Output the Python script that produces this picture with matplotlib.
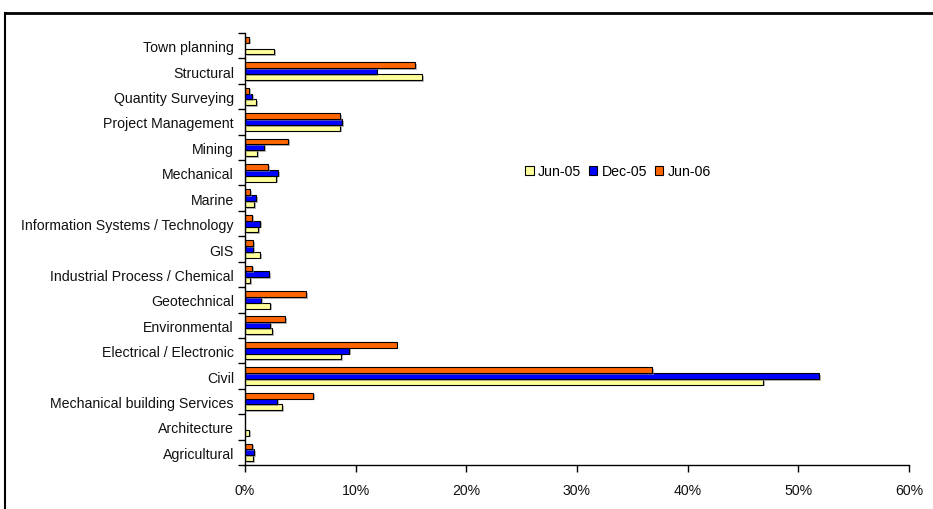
import matplotlib
matplotlib.use("Agg")
import matplotlib.pyplot as plt
import matplotlib.patheffects as pe
from matplotlib.lines import Line2D
from matplotlib.patches import Patch
import numpy as np

categories = ["Agricultural", "Architecture", "Mechanical building Services", "Civil",
              "Electrical / Electronic", "Environmental", "Geotechnical",
              "Industrial Process / Chemical", "GIS", "Information Systems / Technology",
              "Marine", "Mechanical", "Mining", "Project Management",
              "Quantity Surveying", "Structural", "Town planning"]
jun05 = [0.75, 0.4, 3.37, 46.8, 8.7, 2.47, 2.29, 0.48, 1.38, 1.2, 0.81, 2.83, 1.1, 8.58, 1.0, 16.0, 2.65]
dec05 = [0.84, 0.0, 2.92, 51.9, 9.4, 2.29, 1.47, 2.2, 0.75, 1.38, 1.0, 3.0, 1.75, 8.76, 0.66, 11.9, 0.0]
jun06 = [0.66, 0.0, 6.17, 36.8, 13.7, 3.64, 5.54, 0.66, 0.72, 0.66, 0.48, 2.08, 3.9, 8.6, 0.4, 15.4, 0.4]
series_names = ["Jun-05", "Dec-05", "Jun-06"]
colors = ["#FFFF99", "#0000FF", "#FF6600"]
xticks = [0, 10, 20, 30, 40, 50, 60]

plt.rcParams['font.family'] = ['Liberation Sans', 'DejaVu Sans']

W, H = 933, 510
fig = plt.figure(figsize=(W / 100, H / 100), dpi=100)
ax = fig.add_axes([245 / W, 1 - 466 / H, (909 - 245) / W, (466 - 34) / H])

y = np.arange(len(categories))
h = 0.23
shadow = [pe.SimplePatchShadow(offset=(1.2, -1.2), shadow_rgbFace='#888888', alpha=0.6), pe.Normal()]
for vals, off, col in zip([jun05, dec05, jun06], [-h, 0, h], colors):
    bars = ax.barh(y + off, vals, height=h, color=col, edgecolor='black', linewidth=0.8)
    for b in bars:
        if b.get_width() > 0:
            b.set_path_effects(shadow)
        else:
            b.set_visible(False)

fs = 10.2
ax.set_xlim(0, 60)
ax.set_ylim(-0.5, len(categories) - 0.5)
ax.set_xticks(xticks)
ax.set_xticklabels([f"{t}%" for t in xticks], fontsize=fs, color='#111111')
ax.set_yticks(y)
ax.set_yticklabels(categories, fontsize=fs, color='#111111')
ax.set_yticks(np.arange(len(categories) + 1) - 0.5, minor=True)
ax.tick_params(axis='y', which='major', length=0, pad=8)
ax.tick_params(axis='y', which='minor', length=5, width=1, direction='out')
ax.tick_params(axis='x', which='major', length=5, width=1, direction='out', pad=8)
for s in ['top', 'right']:
    ax.spines[s].set_visible(False)
for s in ['left', 'bottom']:
    ax.spines[s].set_linewidth(1)

handles = [Patch(facecolor=c, edgecolor='black', linewidth=0.8) for c in colors]
fig.legend(handles, series_names, loc='center', bbox_to_anchor=(618 / W, 1 - 172 / H),
           ncol=3, frameon=False, fontsize=fs, handlelength=0.6, handleheight=0.6,
           handletextpad=0.3, columnspacing=0.55, borderaxespad=0)

# outer frame (top and left visible)
fig.add_artist(Line2D([5 / W, 1.0], [1 - 14 / H, 1 - 14 / H], transform=fig.transFigure, color='black', linewidth=2))
fig.add_artist(Line2D([5 / W, 5 / W], [0, 1 - 14 / H], transform=fig.transFigure, color='black', linewidth=1.5))

fig.savefig("out.png", dpi=100)
